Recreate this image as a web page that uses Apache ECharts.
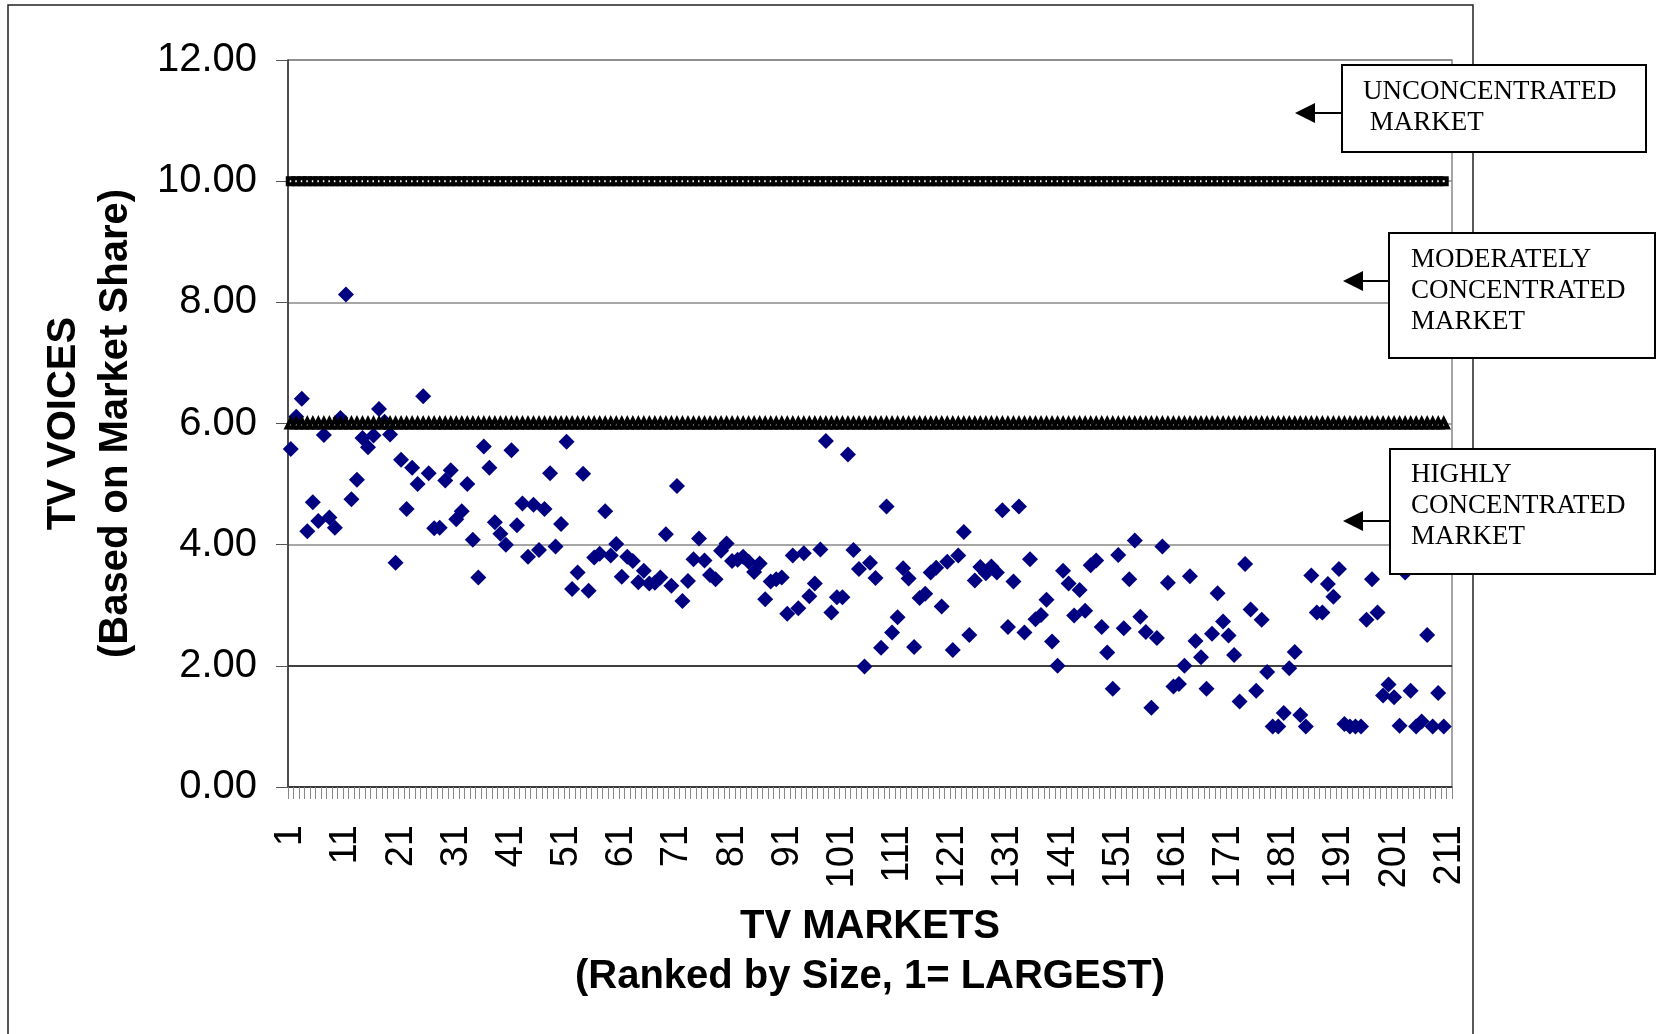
<!DOCTYPE html>
<html>
<head>
<meta charset="utf-8">
<title>TV voices by market</title>
<script src="https://cdn.jsdelivr.net/npm/echarts@6/dist/echarts.min.js"></script>
<style>
  html, body { margin: 0; padding: 0; background: #fff; }
  #chart { width: 1656px; height: 1034px; }
</style>
</head>
<body>
<div id="chart"></div>
<script>
// TV voices per market (based on market share), markets ranked by size
var voices = [
  5.58, 6.11, 6.41, 4.22, 4.70, 4.39, 5.81, 4.45, 4.28, 6.09,
  8.13, 4.75, 5.07, 5.76, 5.61, 5.80, 6.24, 6.03, 5.82, 3.70,
  5.40, 4.59, 5.27, 5.00, 6.45, 5.18, 4.27, 4.28, 5.06, 5.23,
  4.42, 4.55, 5.00, 4.08, 3.46, 5.62, 5.27, 4.37, 4.18, 4.00,
  5.56, 4.32, 4.68, 3.80, 4.66, 3.91, 4.59, 5.18, 3.97, 4.34,
  5.70, 3.27, 3.54, 5.17, 3.24, 3.79, 3.85, 4.55, 3.82, 4.01,
  3.47, 3.80, 3.73, 3.38, 3.57, 3.36, 3.37, 3.46, 4.17, 3.32,
  4.97, 3.07, 3.40, 3.76, 4.10, 3.74, 3.50, 3.43, 3.90, 4.02,
  3.73, 3.75, 3.80, 3.72, 3.55, 3.69, 3.10, 3.39, 3.43, 3.46,
  2.86, 3.82, 2.95, 3.86, 3.15, 3.36, 3.92, 5.71, 2.88, 3.13,
  3.13, 5.49, 3.91, 3.60, 1.99, 3.70, 3.45, 2.30, 4.63, 2.55,
  2.80, 3.61, 3.44, 2.31, 3.12, 3.19, 3.54, 3.62, 2.98, 3.72,
  2.26, 3.82, 4.21, 2.51, 3.41, 3.63, 3.53, 3.64, 3.54, 4.57,
  2.64, 3.39, 4.63, 2.55, 3.76, 2.77, 2.84, 3.09, 2.40, 2.00,
  3.57, 3.36, 2.83, 3.25, 2.91, 3.66, 3.74, 2.64, 2.22, 1.62,
  3.83, 2.62, 3.43, 4.07, 2.81, 2.56, 1.31, 2.46, 3.97, 3.37,
  1.66, 1.70, 2.00, 3.48, 2.41, 2.14, 1.62, 2.53, 3.20, 2.73,
  2.50, 2.18, 1.41, 3.68, 2.93, 1.59, 2.76, 1.90, 1.00, 1.00,
  1.22, 1.96, 2.23, 1.19, 1.00, 3.49, 2.88, 2.88, 3.35, 3.14,
  3.60, 1.04, 1.00, 1.00, 1.00, 2.76, 3.43, 2.88, 1.51, 1.69,
  1.48, 1.01, 3.54, 1.59, 1.00, 1.08, 2.51, 1.00, 1.55, 1.00
];

// thresholds
var UNCONCENTRATED = 10;
var HIGHLY_CONCENTRATED = 6;

// market ranks shown on the category axis (1 .. 211)
var markets = [];
for (var r = 1; r <= 211; r++) markets.push(String(r));

var yTicks = [0, 2, 4, 6, 8, 10, 12];

var FONT = 'Liberation Sans, Arial, sans-serif';
var SERIF = 'Liberation Serif, Times New Roman, serif';

var scatterData = voices.map(function (v, i) { return [i, v]; });
var line10 = voices.map(function () { return UNCONCENTRATED; });
var line6 = voices.map(function () { return HIGHLY_CONCENTRATED; });

function box(x, y, w, h, text, tx, ty) {
    return {
        type: 'group',
        children: [
            { type: 'rect', z: 100, shape: { x: x, y: y, width: w, height: h },
              style: { fill: '#fff', stroke: '#000', lineWidth: 2 } },
            { type: 'text', z: 101, style: { x: tx, y: ty, text: text, fill: '#000',
                font: '27px ' + SERIF, lineHeight: 31, verticalAlign: 'top' } }
        ]
    };
}

function arrow(tip, baseX, endX, y) {
    return {
        type: 'group',
        children: [
            { type: 'line', z: 100, shape: { x1: baseX, y1: y, x2: endX, y2: y },
              style: { stroke: '#000', lineWidth: 2 } },
            { type: 'polygon', z: 100, shape: { points: [[tip, y], [baseX, y - 10], [baseX, y + 10]] },
              style: { fill: '#000' } }
        ]
    };
}

var dom = document.getElementById('chart');
var myChart = echarts.init(dom);
var option = {
    backgroundColor: '#fff',
    animation: false,
    grid: {
        left: 288, right: 204, top: 60, bottom: 247,
        show: true, borderColor: '#888', borderWidth: 1.5, backgroundColor: 'transparent'
    },
    xAxis: {
        type: 'category',
        data: markets,
        boundaryGap: true,
        name: 'TV MARKETS\n(Ranked by Size, 1= LARGEST)',
        nameLocation: 'middle',
        nameGap: 115,
        nameTextStyle: { fontFamily: FONT, fontSize: 40, fontWeight: 'bold', color: '#000', lineHeight: 50 },
        axisLine: { lineStyle: { color: '#333', width: 1.5 } },
        axisTick: { show: true, interval: 0, length: 12, lineStyle: { color: '#888' } },
        axisLabel: { interval: 9, rotate: 90, margin: 38, fontFamily: FONT, fontSize: 38, color: '#000' },
        splitLine: { show: false }
    },
    yAxis: {
        type: 'value',
        min: yTicks[0],
        max: yTicks[yTicks.length - 1],
        interval: 2,
        name: 'TV VOICES\n(Based on Market Share)',
        nameLocation: 'middle',
        nameGap: 146,
        nameTextStyle: { fontFamily: FONT, fontSize: 40, fontWeight: 'bold', color: '#000', lineHeight: 52 },
        axisLine: { show: true, lineStyle: { color: '#333', width: 1.5 } },
        axisTick: { show: true, length: 12, lineStyle: { color: '#555' } },
        axisLabel: {
            margin: 31, fontFamily: FONT, fontSize: 40, color: '#000',
            formatter: function (v) { return v.toFixed(2); }
        },
        splitLine: { show: true, lineStyle: { color: ['#333', '#000', '#888', '#888', '#888', '#888', '#888'], width: 1.5 } }
    },
    series: [
        {
            name: 'TV voices',
            type: 'scatter',
            symbol: 'diamond',
            symbolSize: 16,
            itemStyle: { color: '#000080', opacity: 1 },
            data: scatterData,
            z: 3
        },
        {
            name: 'Unconcentrated',
            type: 'line',
            data: line10,
            showAllSymbol: true,
            symbol: 'rect',
            symbolSize: 6,
            itemStyle: { color: '#fff', borderColor: '#000', borderWidth: 4 },
            lineStyle: { color: '#000', width: 1 },
            z: 4
        },
        {
            name: 'Highly concentrated',
            type: 'line',
            data: line6,
            showAllSymbol: true,
            symbol: 'triangle',
            symbolSize: 8,
            itemStyle: { color: '#fff', borderColor: '#000', borderWidth: 4 },
            lineStyle: { color: '#000', width: 1 },
            z: 4
        }
    ],
    graphic: [
        // outer chart frame
        { type: 'rect', z: 90, shape: { x: 8, y: 5, width: 1465, height: 1045 },
          style: { fill: null, stroke: '#222', lineWidth: 1.5 } },
        box(1342, 65, 304, 87, 'UNCONCENTRATED\n MARKET', 1363, 76),
        arrow(1295, 1315, 1342, 113),
        box(1389, 233, 266, 125, 'MODERATELY\nCONCENTRATED\nMARKET', 1411, 244),
        arrow(1343, 1363, 1389, 281),
        box(1390, 449, 265, 125, 'HIGHLY\nCONCENTRATED\nMARKET', 1411, 459),
        arrow(1343, 1363, 1390, 521)
    ]
};
myChart.setOption(option);
</script>
</body>
</html>
